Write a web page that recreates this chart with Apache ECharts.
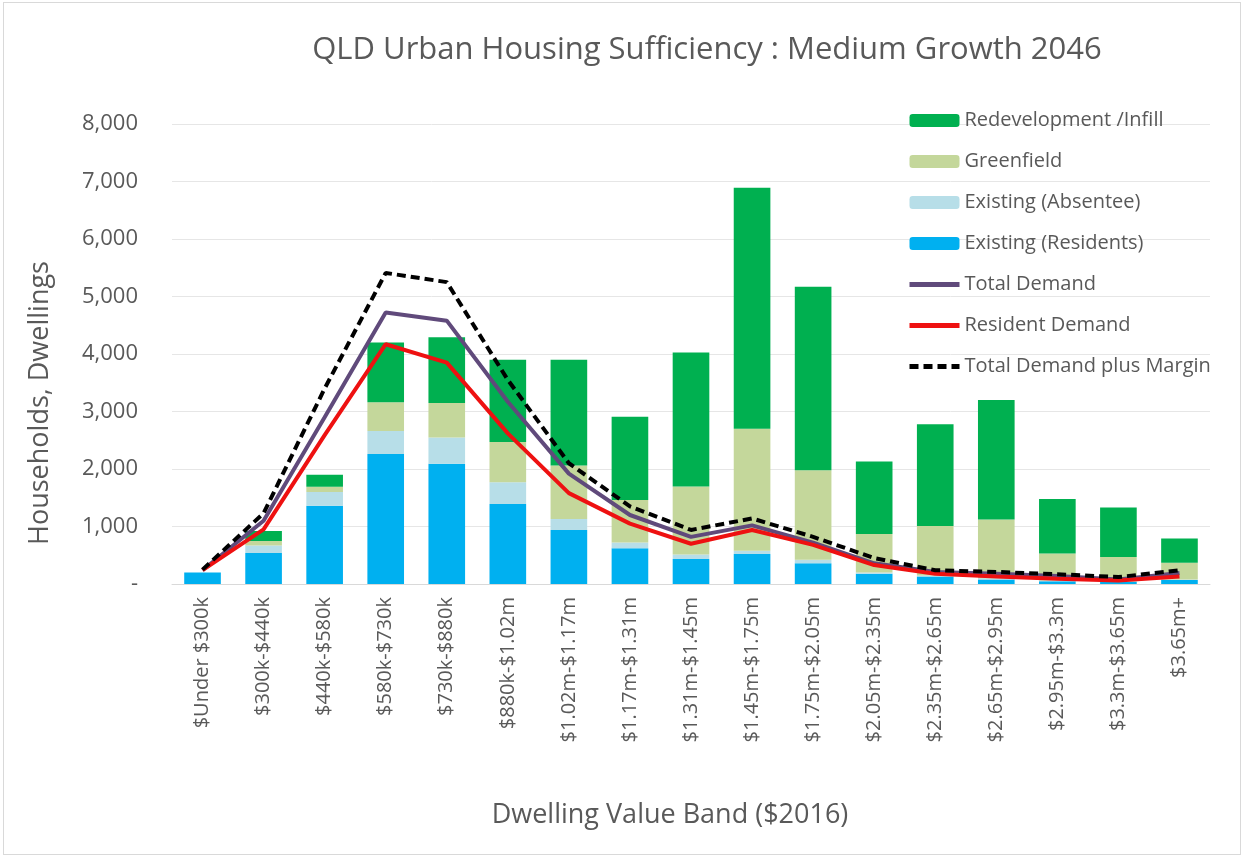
<!DOCTYPE html>
<html>
<head>
<meta charset="utf-8">
<script src="https://cdn.jsdelivr.net/npm/echarts@6/dist/echarts.min.js"></script>
<style>
  html, body { margin: 0; padding: 0; background: #fff; }
  #frame { position: absolute; left: 3px; top: 2px; width: 1236px; height: 851px; border: 1px solid #d9d9d9; }
  #chart { position: absolute; left: 0; top: 0; width: 1243px; height: 857px; }
</style>
</head>
<body>
<div id="frame"></div>
<div id="chart"></div>
<script>
// 价格区间
const categories = ['$Under $300k', '$300k-$440k', '$440k-$580k', '$580k-$730k', '$730k-$880k',
  '$880k-$1.02m', '$1.02m-$1.17m', '$1.17m-$1.31m', '$1.31m-$1.45m', '$1.45m-$1.75m',
  '$1.75m-$2.05m', '$2.05m-$2.35m', '$2.35m-$2.65m', '$2.65m-$2.95m', '$2.95m-$3.3m',
  '$3.3m-$3.65m', '$3.65m+'];

// 堆叠柱（自下而上）
const existingResidents = [200, 540, 1360, 2260, 2090, 1390, 940, 620, 435, 520, 360, 180, 130, 80, 50, 40, 70];
const existingAbsentee  = [0, 130, 240, 400, 460, 380, 190, 100, 80, 60, 60, 20, 20, 20, 10, 10, 10];
const greenfield        = [0, 80, 90, 500, 600, 700, 930, 740, 1180, 2120, 1560, 670, 860, 1020, 470, 420, 290];
const redevelopment     = [0, 170, 210, 1040, 1140, 1430, 1840, 1450, 2330, 4190, 3190, 1260, 1770, 2080, 950, 860, 420];

// 需求线
const totalDemand       = [240, 1100, 2900, 4720, 4580, 3170, 1920, 1200, 820, 1020, 720, 360, 210, 180, 140, 80, 190];
const residentDemand    = [240, 950, 2590, 4170, 3850, 2620, 1580, 1050, 700, 940, 680, 330, 180, 130, 90, 60, 130];
const demandPlusMargin  = [250, 1230, 3400, 5410, 5250, 3550, 2100, 1350, 940, 1140, 820, 450, 240, 210, 170, 120, 240];

const yTicks = { min: 0, max: 8000, interval: 1000 };

const FONT = '"Open Sans", "Noto Sans", sans-serif';
const GREY = '#595959';

const chart = echarts.init(document.getElementById('chart'));

function barSeries(name, data, color) {
  return {
    name, type: 'bar', stack: 'supply', data,
    barCategoryGap: '40%',
    itemStyle: { color },
    emphasis: { disabled: true },
    z: 2,
  };
}
function lineSeries(name, data, color, dashed) {
  return {
    name, type: 'line', data,
    symbol: 'none', smooth: false,
    lineStyle: { color, width: 4, type: dashed ? [9, 5] : 'solid' },
    itemStyle: { color },
    emphasis: { disabled: true },
    z: dashed ? 5 : 4,
  };
}

// 图例里线条不带圆点
const noDot = { opacity: 0 };

chart.setOption({
  animation: false,
  backgroundColor: 'transparent',
  textStyle: { fontFamily: FONT },
  title: {
    text: 'QLD Urban Housing Sufficiency : Medium Growth 2046',
    left: 702, top: 30, textAlign: 'center',
    textStyle: { fontFamily: FONT, fontSize: 31, fontWeight: 'normal', color: GREY },
  },
  legend: {
    orient: 'vertical', left: 902, top: 105,
    itemWidth: 50, itemHeight: 13, itemGap: 20,
    textStyle: { fontFamily: FONT, fontSize: 20, lineHeight: 21, color: GREY },
    data: [
      'Redevelopment /Infill', 'Greenfield', 'Existing (Absentee)', 'Existing (Residents)',
      { name: 'Total Demand', itemStyle: noDot, lineStyle: { width: 5 } },
      { name: 'Resident Demand', itemStyle: noDot, lineStyle: { width: 5 } },
      { name: 'Total Demand plus Margin', itemStyle: noDot, lineStyle: { width: 5 } },
    ],
  },
  grid: { left: 172, right: 33, top: 124, bottom: 273, containLabel: false },
  xAxis: {
    type: 'category', data: categories,
    axisLine: { lineStyle: { color: '#d9d9d9', width: 1 } },
    axisTick: { show: false },
    axisLabel: { rotate: 90, color: GREY, fontSize: 20, fontFamily: FONT, margin: 13, interval: 0 },
  },
  yAxis: {
    type: 'value', ...yTicks,
    axisLine: { show: false },
    axisTick: { show: false },
    splitLine: { lineStyle: { color: '#e6e6e6', width: 1 } },
    axisLabel: {
      color: GREY, fontSize: 22, fontFamily: FONT, margin: 8, padding: [0, 26, 0, 0],
      formatter: v => v === 0 ? '-' : v.toLocaleString('en-US'),
    },
  },
  graphic: [
    {
      type: 'text', x: 40, y: 403, rotation: Math.PI / 2,
      style: { text: 'Households, Dwellings', fontFamily: FONT, fontSize: 27, fill: GREY, align: 'center', verticalAlign: 'middle' },
    },
    {
      type: 'text', x: 670, y: 815,
      style: { text: 'Dwelling Value Band ($2016)', fontFamily: FONT, fontSize: 27, fill: GREY, align: 'center', verticalAlign: 'middle' },
    },
  ],
  series: [
    barSeries('Existing (Residents)', existingResidents, '#00b0f0'),
    barSeries('Existing (Absentee)', existingAbsentee, '#b7dee8'),
    barSeries('Greenfield', greenfield, '#c4d79b'),
    barSeries('Redevelopment /Infill', redevelopment, '#00b050'),
    lineSeries('Total Demand', totalDemand, '#604a7b', false),
    lineSeries('Resident Demand', residentDemand, '#ee1111', false),
    lineSeries('Total Demand plus Margin', demandPlusMargin, '#000000', true),
  ],
});
window.addEventListener('resize', () => chart.resize());
</script>
</body>
</html>
